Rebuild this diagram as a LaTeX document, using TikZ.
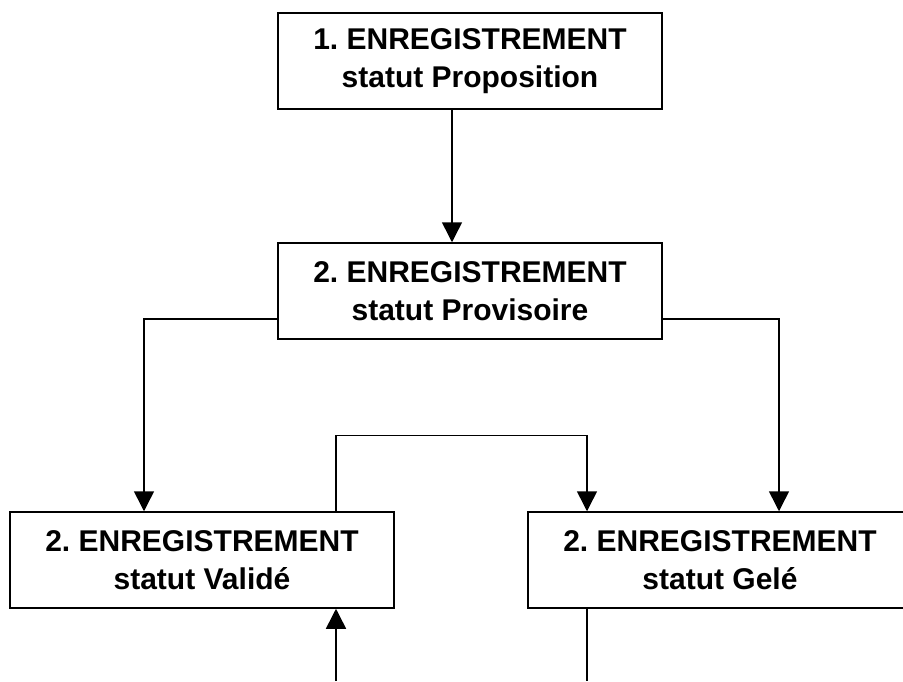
\documentclass[tikz,border=0pt]{standalone}
\usepackage{fontspec}
\setmainfont{Liberation Sans}
\usetikzlibrary{arrows.meta}

\begin{document}
\begin{tikzpicture}[x=1pt,y=-1pt,
  etat/.style={draw,line width=1.5pt,minimum width=384pt,minimum height=96pt,
    inner sep=0pt,align=center,font=\fontsize{30}{38}\selectfont\bfseries\frenchspacing},
  fleche/.style={line width=1.5pt,-{Triangle[length=20pt,width=20pt]}},
  trait/.style={line width=1.5pt}]
\useasboundingbox (0,0) rectangle (903,681);
\clip (0,0) rectangle (903,681);
\node[etat] (prop) at (470,61) {1. ENREGISTREMENT\\statut Proposition};
\node[etat] (prov) at (470,291) {2. ENREGISTREMENT\\statut Provisoire};
\node[etat] (val) at (202,560) {2. ENREGISTREMENT\\statut Validé};
\node[etat] (gel) at (720,560) {2. ENREGISTREMENT\\statut Gelé};
\coordinate (entree) at (336,681);
\coordinate (sortie) at (587,681);
\draw[fleche] ([xshift=-18pt]prop.south) -- ([xshift=-18pt]prov.north);
\draw[fleche] ([yshift=-28pt]prov.west) -| ([xshift=-58pt]val.north);
\draw[fleche] ([yshift=-28pt]prov.east) -| ([xshift=59pt]gel.north);
\draw[fleche] ([xshift=134pt]val.north) -- ++(0pt,76pt) -| ([xshift=-133pt]gel.north);
\draw[fleche] (entree) -- (entree |- val.south);
\draw[trait] (sortie |- gel.south) -- (sortie);
\end{tikzpicture}
\end{document}
